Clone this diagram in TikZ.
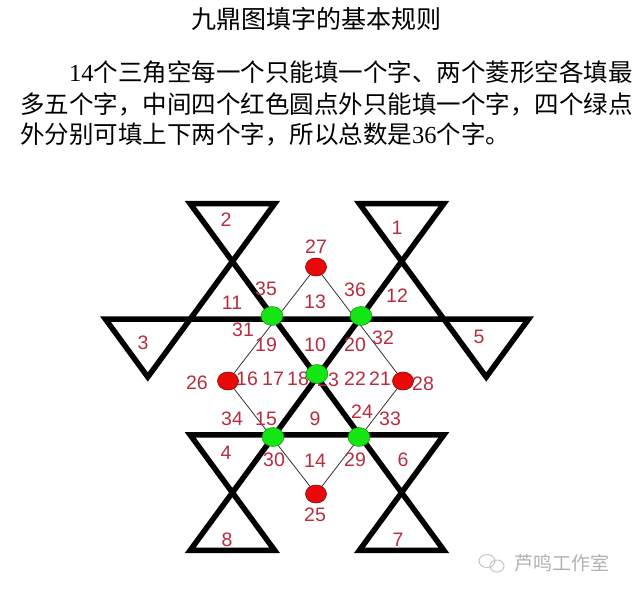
\documentclass[tikz,border=0pt]{standalone}
\usepackage{fontspec}
\setmainfont{Liberation Sans}
\newfontfamily\cjk{Noto Sans CJK SC}
\newfontfamily\serifdig{Liberation Serif}
\usetikzlibrary{shapes.geometric}
\definecolor{numred}{RGB}{185,45,60}
\definecolor{dotred}{RGB}{232,10,10}
\definecolor{dotgreen}{RGB}{20,230,20}
\begin{document}
\begin{tikzpicture}[x=1pt,y=-1pt,
  thick frame/.style={line width=5.5pt, line join=miter, black},
  thin link/.style={line width=0.8pt, black!80},
  num/.style={text=numred, font=\fontsize{19.5}{19.5}\selectfont, inner sep=0pt},
  reddot/.style={ellipse, fill=dotred, draw=red!55!black, line width=0.6pt, minimum width=21pt, minimum height=18pt, inner sep=0pt},
  greendot/.style={ellipse, fill=dotgreen, draw=green!50!black, line width=0.4pt, minimum width=22pt, minimum height=19pt, inner sep=0pt},
  cjktext/.style={font=\cjk\fontsize{24.5}{24.5}\selectfont, inner sep=0pt, anchor=west}]
\useasboundingbox (0,0) rectangle (637,594);
\fill[white] (0,0) rectangle (637,594);

% texts
\node[font=\cjk\fontsize{25}{25}\selectfont, inner sep=0pt] (title) at (316,19) {九鼎图填字的基本规则};
\node[cjktext] (line1) at (69,72) {{\serifdig 14}个三角空每一个只能填一个字、两个菱形空各填最};
\node[cjktext] (line2) at (20,104) {多五个字，中间四个红色圆点外只能填一个字，四个绿点};
\node[cjktext] (line3) at (20,134) {外分别可填上下两个字，所以总数是{\serifdig 36}个字。};

% frame corners
\coordinate (c3b) at (147.8,377);
\coordinate (t2r) at (274.7,203.6);
\coordinate (t2l) at (190.1,203.6);
\coordinate (b7r) at (443.9,550.4);
\coordinate (b7l) at (359.3,550.4);
\coordinate (h2r) at (443.9,434.8);
\coordinate (h2l) at (190.1,434.8);
\coordinate (b8r) at (274.7,550.4);
\coordinate (b8l) at (190.1,550.4);
\coordinate (t1r) at (443.9,203.6);
\coordinate (t1l) at (359.3,203.6);
\coordinate (c5b) at (486.2,377);
\coordinate (h1r) at (528.5,319.2);
\coordinate (h1l) at (105.5,319.2);
\draw[thick frame] (c3b) -- (t2r) -- (t2l) -- (b7r) -- (b7l) -- (h2r) -- (h2l)
  -- (b8r) -- (b8l) -- (t1r) -- (t1l) -- (c5b) -- (h1r) -- (h1l) -- cycle;

% dot positions
\coordinate (p27) at (316,267);
\coordinate (p26) at (228,381);
\coordinate (p28) at (403,381);
\coordinate (p25) at (316,494);
\coordinate (gul) at (272,316);
\coordinate (gur) at (361,316);
\coordinate (gc) at (317,374);
\coordinate (gll) at (273,437);
\coordinate (glr) at (359,437);

\draw[thin link] (p27) -- (p26) -- (p25) -- (p28) -- cycle;

% numbers
\node[num] (n1) at (397,228) {1};
\node[num] (n2) at (226,220) {2};
\node[num] (n3) at (143,343) {3};
\node[num] (n4) at (226,453) {4};
\node[num] (n5) at (479,337) {5};
\node[num] (n6) at (403,460) {6};
\node[num] (n7) at (398,540) {7};
\node[num] (n8) at (227,540) {8};
\node[num] (n9) at (315,419) {9};
\node[num] (n10) at (315,345) {10};
\node[num] (n11) at (232,303) {11};
\node[num] (n12) at (397,296) {12};
\node[num] (n13) at (315,302) {13};
\node[num] (n14) at (315,461) {14};
\node[num] (n15) at (266,419) {15};
\node[num] (n16) at (247,379) {16};
\node[num] (n17) at (273,379) {17};
\node[num] (n18) at (298,379) {18};
\node[num] (n19) at (266,345) {19};
\node[num] (n20) at (355,345) {20};
\node[num] (n21) at (380,379) {21};
\node[num] (n22) at (355,379) {22};
\node[num] (n23) at (328,380) {23};
\node[num] (n24) at (362,412) {24};
\node[num] (n25) at (315,515) {25};
\node[num] (n26) at (197,383) {26};
\node[num] (n27) at (316,247) {27};
\node[num] (n28) at (423,384) {28};
\node[num] (n29) at (355,460) {29};
\node[num] (n30) at (274,460) {30};
\node[num] (n31) at (243,330) {31};
\node[num] (n32) at (383,338) {32};
\node[num] (n33) at (390,419) {33};
\node[num] (n34) at (232,419) {34};
\node[num] (n35) at (266,289) {35};
\node[num] (n36) at (355,290) {36};

% dots
\node[reddot] (r27) at (p27) {};
\node[reddot] (r26) at (p26) {};
\node[reddot] (r28) at (p28) {};
\node[reddot] (r25) at (p25) {};
\node[greendot] (g1) at (gul) {};
\node[greendot] (g2) at (gur) {};
\node[greendot] (g3) at (gc) {};
\node[greendot] (g4) at (gll) {};
\node[greendot] (g5) at (glr) {};

% watermark
\draw[black!22, line width=1pt] (487,561) ellipse (8pt and 6.5pt);
\draw[black!22, line width=1pt] (497,566) ellipse (7pt and 6pt);
\node[text=black!30, font=\cjk\fontsize{19}{19}\selectfont, inner sep=0pt, anchor=west] (wm) at (514,563) {芦鸣工作室};
\end{tikzpicture}
\end{document}
